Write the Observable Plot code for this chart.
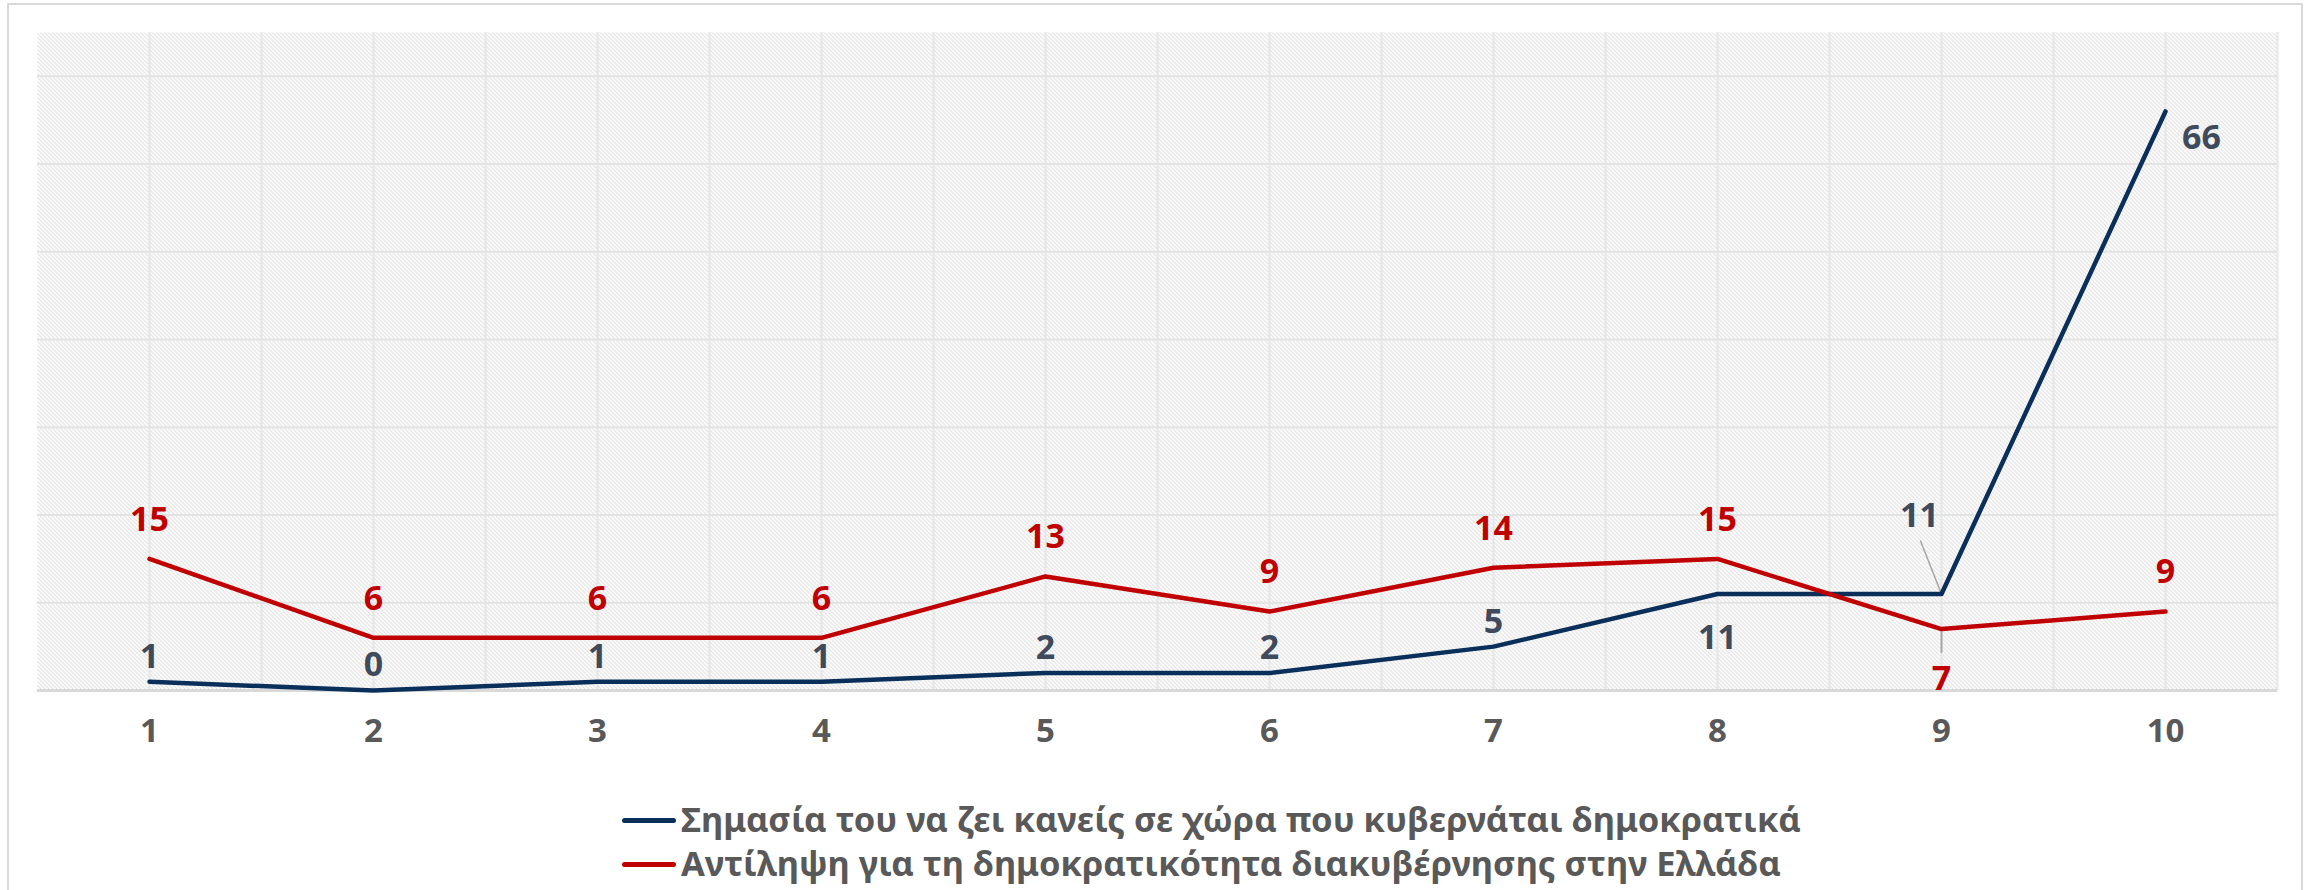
<!DOCTYPE html>
<html>
<head>
<meta charset="utf-8">
<script src="https://cdn.jsdelivr.net/npm/d3@7"></script>
<script src="https://cdn.jsdelivr.net/npm/@observablehq/plot@0.6"></script>
<style>
  html, body { margin: 0; padding: 0; background: #fff; }
  body { width: 2305px; height: 890px; position: relative; overflow: hidden; font-family: "Noto Sans", sans-serif; }
  #frame { position: absolute; left: 7px; top: 3px; width: 2292px; height: 900px; border: 2px solid #d9d9d9; box-sizing: content-box; }
  #chart { position: absolute; left: 0; top: 0; }
  #legend { position: absolute; left: 622px; top: 797px; font-weight: 700; font-size: 34.5px; color: #595959; line-height: 44px; }
  .item { display: flex; align-items: center; white-space: nowrap; }
  .sw { display: inline-block; width: 54px; height: 5px; margin-right: 5px; border-radius: 3px; position: relative; top: 1px; }
</style>
</head>
<body>
<div id="frame"></div>
<div id="chart"></div>
<div id="legend"></div>
<script>
// ---- data ----
const categories = [1, 2, 3, 4, 5, 6, 7, 8, 9, 10];
const importance = [1, 0, 1, 1, 2, 2, 5, 11, 11, 66];   // Σημασία του να ζει κανείς σε χώρα που κυβερνάται δημοκρατικά
const perception = [15, 6, 6, 6, 13, 9, 14, 15, 7, 9];  // Αντίληψη για τη δημοκρατικότητα διακυβέρνησης στην Ελλάδα
const seriesNames = [
  "Σημασία του να ζει κανείς σε χώρα που κυβερνάται δημοκρατικά",
  "Αντίληψη για τη δημοκρατικότητα διακυβέρνησης στην Ελλάδα"
];
const yTicks = [0, 10, 20, 30, 40, 50, 60, 70];

const BLUE = "#0a2f5a", BLUE_TXT = "#3f4a5c", RED = "#c00000", GRAY = "#595959";

const blue = categories.map((c, i) => ({x: c, y: importance[i], i}));
const red = categories.map((c, i) => ({x: c, y: perception[i], i}));

const font = "Noto Sans";
const lbl = {text: d => String(d.y), fontSize: 34, fontWeight: "bold", fontFamily: font};

const lineShape = {draw(ctx, l) { ctx.moveTo(0, 0); ctx.lineTo(0, -l); }};

const plot = Plot.plot({
  width: 2305,
  height: 770,
  marginLeft: 37,
  marginRight: 28,
  marginTop: 32,
  marginBottom: 80,
  style: {fontFamily: font, background: "transparent"},
  x: {type: "linear", domain: [0.5, 10.5], label: null},
  y: {domain: [0, 75], axis: null, label: null},
  marks: [
    Plot.frame({fill: "url(#hatch)", stroke: null}),
    Plot.gridY(yTicks.filter(t => t > 0), {stroke: "#e3e3e3", strokeOpacity: 1, strokeWidth: 2}),
    Plot.gridX(d3.range(1, 10.6, 0.5), {stroke: "#e6e6e6", strokeOpacity: 1, strokeWidth: 2}),
    Plot.ruleY([0], {stroke: "#d9d9d9", strokeWidth: 3}),
    Plot.axisX(categories, {tickSize: 0, tickPadding: 28, fontSize: 33, fontWeight: "bold", color: GRAY, label: null, tickFormat: d => String(d)}),
    // leader lines
    Plot.vector(blue.filter(d => d.i === 8), {x: "x", y: "y", length: 57, rotate: -21.6, anchor: "start", shape: lineShape, stroke: "#a6a6a6", strokeWidth: 1.5}),
    Plot.vector(red.filter(d => d.i === 8), {x: "x", y: "y", length: 20, rotate: 180, anchor: "start", dy: 3, shape: lineShape, stroke: "#a6a6a6", strokeWidth: 2}),
    Plot.line(blue, {x: "x", y: "y", stroke: BLUE, strokeWidth: 4.5}),
    Plot.line(red, {x: "x", y: "y", stroke: RED, strokeWidth: 4.5}),
    // red labels
    Plot.text(red.filter(d => d.i !== 8), {x: "x", y: "y", ...lbl, fill: RED, dy: -39}),
    Plot.text(red.filter(d => d.i === 8), {x: "x", y: "y", ...lbl, fill: RED, dy: 50}),
    // blue labels
    Plot.text(blue.filter(d => d.i <= 6), {x: "x", y: "y", ...lbl, fill: BLUE_TXT, dy: -25}),
    Plot.text(blue.filter(d => d.i === 7), {x: "x", y: "y", ...lbl, fill: BLUE_TXT, dy: 44}),
    Plot.text(blue.filter(d => d.i === 8), {x: "x", y: "y", ...lbl, fill: BLUE_TXT, dx: -22, dy: -78}),
    Plot.text(blue.filter(d => d.i === 9), {x: "x", y: "y", ...lbl, fill: BLUE_TXT, dx: 36, dy: 27})
  ]
});

// hatch pattern
const ns = "http://www.w3.org/2000/svg";
const defs = document.createElementNS(ns, "defs");
const pat = document.createElementNS(ns, "pattern");
pat.setAttribute("id", "hatch");
pat.setAttribute("patternUnits", "userSpaceOnUse");
pat.setAttribute("width", "4");
pat.setAttribute("height", "4");
const bg = document.createElementNS(ns, "rect");
bg.setAttribute("width", "4"); bg.setAttribute("height", "4"); bg.setAttribute("fill", "#ffffff");
pat.appendChild(bg);
const p = document.createElementNS(ns, "path");
p.setAttribute("d", "M0,0L4,4M-1,3L1,5M3,-1L5,1");
p.setAttribute("stroke", "#cfcfcf");
p.setAttribute("stroke-width", "1");
pat.appendChild(p);
defs.appendChild(pat);
plot.insertBefore(defs, plot.firstChild);

document.getElementById("chart").appendChild(plot);

// legend
const legend = document.getElementById("legend");
[[BLUE, seriesNames[0]], [RED, seriesNames[1]]].forEach(([c, name]) => {
  const row = document.createElement("div");
  row.className = "item";
  const sw = document.createElement("span");
  sw.className = "sw";
  sw.style.background = c;
  const t = document.createElement("span");
  t.textContent = name;
  row.appendChild(sw);
  row.appendChild(t);
  legend.appendChild(row);
});
</script>
</body>
</html>
